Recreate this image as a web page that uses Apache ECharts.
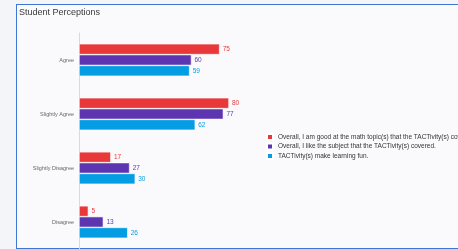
<!DOCTYPE html>
<html>
<head>
<meta charset="utf-8">
<script src="https://cdn.jsdelivr.net/npm/echarts@6/dist/echarts.min.js"></script>
<style>
    html, body { margin: 0; padding: 0; background: #f4f5f8; }
    #frame {
        position: absolute; left: 16px; top: 4px; width: 460px; height: 243px;
        background: #fafafd;
        border-left: 1.5px solid #3d77d4;
        border-top: 1.5px solid #3d77d4;
        border-bottom: 1.5px solid #3d77d4;
    }
    #chart { position: absolute; left: 0; top: 0; width: 458px; height: 249px; }
</style>
</head>
<body>
<div id="frame"></div>
<div id="chart"></div>
<script>
const categories = ['Agree', 'Slightly Agree', 'Slightly Disagree', 'Disagree'];
const seriesNames = [
    'Overall, I am good at the math topic(s) that the TACTivity(s) covered.',
    'Overall, I like the subject that the TACTivity(s) covered.',
    'TACTivity(s) make learning fun.'
];
const goodAtMath = [75, 80, 17, 5];
const likeSubject = [60, 77, 27, 13];
const learningFun = [59, 62, 30, 26];
const colors = ['#e8383a', '#5e35b1', '#049ce3'];

const chart = echarts.init(document.getElementById('chart'));

function makeSeries(name, data, color) {
    return {
        name: name,
        type: 'bar',
        data: data,
        barGap: '0%',
        barCategoryGap: '40%',
        itemStyle: { color: color, borderColor: '#ffffff', borderWidth: 0.6 },
        label: {
            show: true,
            position: 'right',
            distance: 3,
            fontSize: 6.5,
            color: color,
            fontFamily: 'Liberation Sans'
        }
    };
}

const option = {
    animation: false,
    title: {
        text: 'Student Perceptions',
        left: 19,
        top: 8,
        padding: 0,
        textStyle: { fontSize: 9, fontWeight: 'normal', color: '#3a3a3a', fontFamily: 'Liberation Sans' }
    },
    legend: {
        orient: 'vertical',
        left: 266,
        top: 133,
        padding: 0,
        itemWidth: 6,
        itemHeight: 6,
        itemGap: 1.5,
        icon: 'rect',
        textStyle: { fontSize: 6.5, color: '#333', fontFamily: 'Liberation Sans' },
        data: seriesNames
    },
    grid: { left: 79, top: 33, width: 150, height: 218 },
    xAxis: {
        type: 'value',
        min: 0,
        max: 80,
        show: false
    },
    yAxis: {
        type: 'category',
        inverse: true,
        data: categories,
        axisLine: { lineStyle: { color: '#d8d8de' } },
        axisTick: { length: 3, lineStyle: { color: '#d8d8de' } },
        axisLabel: { fontSize: 5.5, color: '#666', margin: 5, fontFamily: 'Liberation Sans' }
    },
    series: [
        makeSeries(seriesNames[0], goodAtMath, colors[0]),
        makeSeries(seriesNames[1], likeSubject, colors[1]),
        makeSeries(seriesNames[2], learningFun, colors[2])
    ]
};

chart.setOption(option);
</script>
</body>
</html>
